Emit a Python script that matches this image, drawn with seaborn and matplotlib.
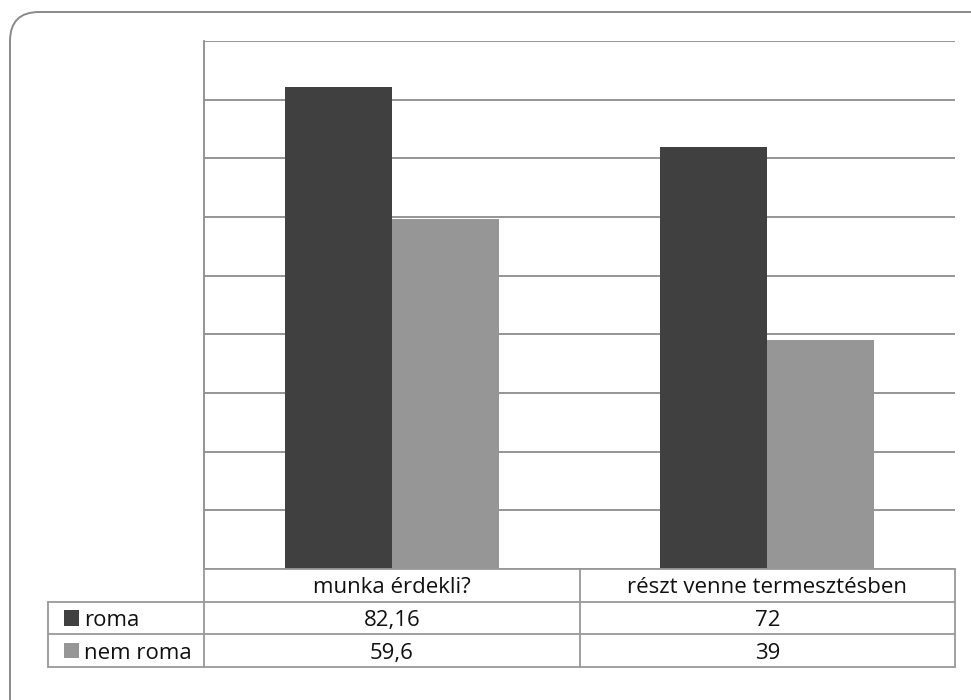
import pandas as pd
import numpy as np
import matplotlib.pyplot as plt
import seaborn as sns
from matplotlib.patches import FancyBboxPatch, Rectangle

# Data
categories = ['munka érdekli?', 'részt venne termesztésben']
series_names = ['roma', 'nem roma']
roma = [82.16, 72]
nem_roma = [59.6, 39]
colors = ['#404040', '#969696']

df = pd.DataFrame({
    'category': categories * 2,
    'series': [series_names[0]] * 2 + [series_names[1]] * 2,
    'value': roma + nem_roma,
})

sns.set_theme(style='white')
plt.rcParams['font.family'] = ['Open Sans', 'DejaVu Sans']

W, H = 971, 700
fig = plt.figure(figsize=(W / 100, H / 100), dpi=100)

# rounded border around the whole chart
border = FancyBboxPatch((10 / W, 1 - 700 / H - 0.05), 1.2, 1 - 12 / H + 0.05,
                        boxstyle='round,pad=0,rounding_size=0.03',
                        transform=fig.transFigure, fill=False,
                        edgecolor='#8a8a8a', linewidth=1.4, mutation_aspect=W / H)
fig.patches.append(border)

# main plot area
x0, x1, ytop, ybot = 204, 955, 41, 569
ax = fig.add_axes([x0 / W, 1 - ybot / H, (x1 - x0) / W, (ybot - ytop) / H])
sns.barplot(data=df, x='category', y='value', hue='series', palette=colors,
            width=0.57, saturation=1, ax=ax, legend=False, linewidth=0)
ax.set_ylim(0, 90)
ax.set_xlim(-0.5, 1.5)
ax.set_yticks(np.arange(0, 91, 10))
ax.yaxis.grid(True, color='#8c8c8c', linewidth=1.3)
ax.set_axisbelow(True)
ax.set_yticklabels([])
ax.set_xticks([])
ax.set_xlabel('')
ax.set_ylabel('')
for s in ['top', 'right', 'bottom']:
    ax.spines[s].set_visible(False)
ax.spines['left'].set_color('#8c8c8c')
ax.spines['left'].set_linewidth(1.3)
ax.tick_params(left=False, bottom=False)

# data table under the chart, sharing the category scale
tx0, tybot = 48, 667
units_per_px = 2.0 / (x1 - x0)
left_edge = -0.5 - (x0 - tx0) * units_per_px
tax = fig.add_axes([tx0 / W, 1 - tybot / H, (x1 - tx0) / W, (tybot - ybot) / H])
tax.set_xlim(left_edge, 1.5)
tax.set_ylim(3, 0)
tax.axis('off')

lc = '#999999'
lw = 1.3
# header row
tax.plot([-0.5, 1.5], [0, 0], color=lc, lw=lw, clip_on=False)
for xv in [-0.5, 0.5, 1.5]:
    tax.plot([xv, xv], [0, 3], color=lc, lw=lw, clip_on=False)
tax.plot([left_edge, 1.5], [1, 1], color=lc, lw=lw, clip_on=False)
tax.plot([left_edge, 1.5], [2, 2], color=lc, lw=lw, clip_on=False)
tax.plot([left_edge, 1.5], [3, 3], color=lc, lw=lw, clip_on=False)
tax.plot([left_edge, left_edge], [1, 3], color=lc, lw=lw, clip_on=False)

fs = 16
for i, cat in enumerate(categories):
    tax.text(i, 0.5, cat, ha='center', va='center_baseline', fontsize=fs, color='#111111')

def fmt(v):
    return f'{v:g}'.replace('.', ',')

for r, (name, vals, col) in enumerate(zip(series_names, [roma, nem_roma], colors)):
    yc = 1.5 + r
    sq = 15 * units_per_px
    tax.add_patch(Rectangle((left_edge + 16 * units_per_px, yc - 0.23), sq, 0.46,
                            facecolor=col, edgecolor='none', clip_on=False))
    tax.text(left_edge + 36 * units_per_px, yc, name, ha='left', va='center_baseline',
             fontsize=fs, color='#111111')
    for i, v in enumerate(vals):
        tax.text(i, yc, fmt(v), ha='center', va='center_baseline', fontsize=fs, color='#111111')

fig.savefig('out.png', dpi=100)
